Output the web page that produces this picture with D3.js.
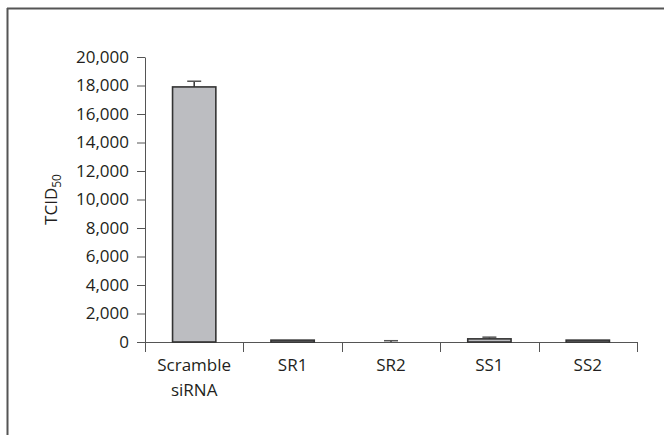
<!DOCTYPE html>
<html>
<head>
<meta charset="utf-8">
<script src="https://cdn.jsdelivr.net/npm/d3@7"></script>
<style>
  html, body { margin: 0; padding: 0; background: #fff; }
  svg { display: block; }
  text { font-family: "Open Sans", "Noto Sans", sans-serif; fill: #231f20; }
</style>
</head>
<body>
<script>
const categories = ["Scramble siRNA", "SR1", "SR2", "SS1", "SS2"];
const values = [17900, 130, 0, 220, 130];
const errors = [400, 0, 90, 120, 0];
const yTicks = [0, 2000, 4000, 6000, 8000, 10000, 12000, 14000, 16000, 18000, 20000];
const yLabel = "TCID";
const yLabelSub = "50";

(function () {
const W = 664, H = 435;
const svg = d3.select("body").append("svg").attr("width", W).attr("height", H);

// frame
svg.append("line").attr("x1", 7.5).attr("x2", 7.5).attr("y1", 8).attr("y2", H)
  .attr("stroke", "#555").attr("stroke-width", 2);
svg.append("line").attr("x1", 7).attr("x2", W).attr("y1", 8.5).attr("y2", 8.5)
  .attr("stroke", "#555").attr("stroke-width", 2);

const mL = 145, mR = 637, mT = 57, mB = 342;
const x = d3.scaleBand().domain(categories).range([mL, mR]).paddingInner(0.56).paddingOuter(0.28);
const y = d3.scaleLinear().domain([0, 20000]).range([mB, mT]);

const fmt = d3.format(",");

// y axis
const yAxis = svg.append("g").attr("transform", `translate(${mL},0)`)
  .call(d3.axisLeft(y).tickValues(yTicks).tickFormat(fmt).tickSize(8).tickPadding(8).tickSizeOuter(0));
yAxis.select(".domain").attr("stroke", "#555");
yAxis.selectAll(".tick line").attr("stroke", "#555");
yAxis.selectAll(".tick text").style("font-size", "17px").attr("fill", "#231f20")
  .style("font-family", "'Open Sans', sans-serif");

// x axis: line plus band-boundary ticks
const gx = svg.append("g");
gx.append("line").attr("x1", mL).attr("x2", mR).attr("y1", mB + 0.5).attr("y2", mB + 0.5)
  .attr("stroke", "#555");
const bounds = categories.map(c => x(c) - x.step() * x.paddingInner() / 2);
bounds[0] = mL;
bounds.push(mR);
gx.selectAll(".bt").data(bounds).join("line")
  .attr("x1", d => Math.round(d) + 0.5).attr("x2", d => Math.round(d) + 0.5)
  .attr("y1", mB).attr("y2", mB + 10).attr("stroke", "#555");

const lbl = gx.selectAll(".xl").data(categories).join("text")
  .attr("text-anchor", "middle")
  .attr("x", d => x(d) + x.bandwidth() / 2)
  .attr("y", mB + 29)
  .style("font-size", "17px");
lbl.each(function(d) {
  const parts = d.split(" ");
  const t = d3.select(this);
  parts.forEach((p, i) => {
    t.append("tspan").attr("x", x(d) + x.bandwidth() / 2).attr("dy", i === 0 ? 0 : 25).text(p);
  });
});

// bars (zero-height bars are not drawn)
const data = categories.map((c, i) => ({c, v: values[i], e: errors[i]}));
svg.selectAll(".bar").data(data.filter(d => d.v > 0)).join("rect")
  .attr("x", d => x(d.c)).attr("width", x.bandwidth())
  .attr("y", d => y(d.v)).attr("height", d => y(0) - y(d.v))
  .attr("fill", "#bcbdc1").attr("stroke", "#333").attr("stroke-width", 1.6);

// error bars
const eb = data.filter(d => d.e > 0);
svg.selectAll(".ev").data(eb).join("line")
  .attr("x1", d => x(d.c) + x.bandwidth() / 2).attr("x2", d => x(d.c) + x.bandwidth() / 2)
  .attr("y1", d => y(d.v)).attr("y2", d => y(d.v + d.e))
  .attr("stroke", "#333").attr("stroke-width", 1.5);
svg.selectAll(".ec").data(eb).join("line")
  .attr("x1", d => x(d.c) + x.bandwidth() / 2 - 7).attr("x2", d => x(d.c) + x.bandwidth() / 2 + 7)
  .attr("y1", d => y(d.v + d.e)).attr("y2", d => y(d.v + d.e))
  .attr("stroke", "#555").attr("stroke-width", 1.5);

// y label
const yl = svg.append("text")
  .attr("transform", `translate(57,${(mT + mB) / 2}) rotate(-90)`)
  .attr("text-anchor", "middle")
  .style("font-size", "17px");
yl.append("tspan").text(yLabel);
yl.append("tspan").attr("dy", 4).style("font-size", "12px").text(yLabelSub);
})();
</script>
</body>
</html>
